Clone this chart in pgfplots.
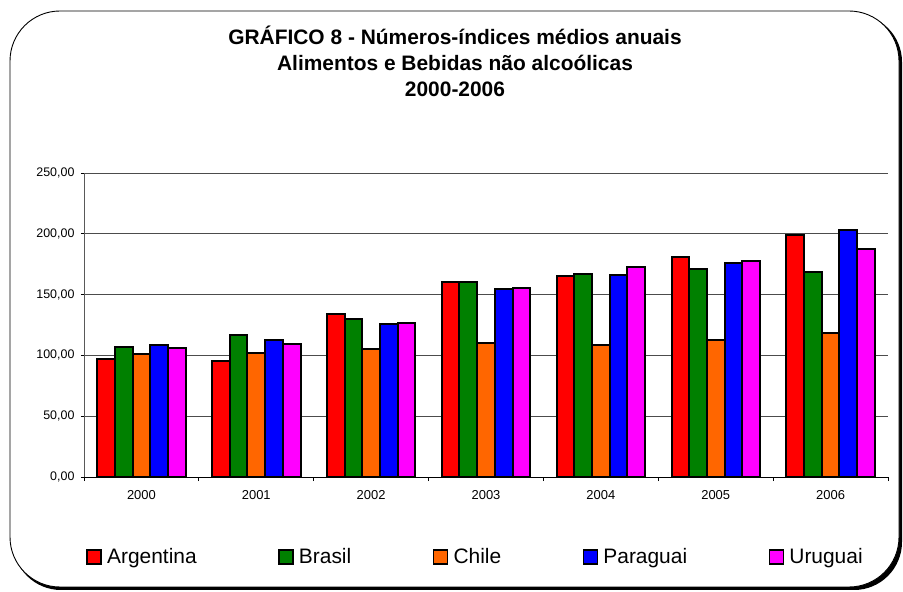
\documentclass[border=0pt]{standalone}
\usepackage{fontspec}
\setmainfont{Liberation Sans}
\usepackage{pgfplots}
\pgfplotsset{compat=1.18}
\definecolor{cArg}{HTML}{FF0000}
\definecolor{cBra}{HTML}{008000}
\definecolor{cChi}{HTML}{FF6600}
\definecolor{cPar}{HTML}{0000FF}
\definecolor{cUru}{HTML}{FF00FF}
\begin{document}
\begin{tikzpicture}
\useasboundingbox (0,0) rectangle (903bp,592bp);
\fill[black, rounded corners=48bp] (13bp,2bp) rectangle (902bp,578bp);
\filldraw[fill=white, draw=black, line width=0.9bp, rounded corners=50bp] (10bp,5bp) rectangle (899bp,581bp);
\node[anchor=base, font=\bfseries\fontsize{21}{24}\selectfont] at (455bp,547bp) {GRÁFICO 8 - Números-índices médios anuais};
\node[anchor=base, font=\bfseries\fontsize{21}{24}\selectfont] at (455bp,521bp) {Alimentos e Bebidas não alcoólicas};
\node[anchor=base, font=\bfseries\fontsize{21}{24}\selectfont] at (455bp,495bp) {2000-2006};
\begin{axis}[
  at={(84bp,115bp)}, anchor=south west,
  scale only axis, width=804bp, height=304bp,
  ybar=0pt, bar width=0.154,
  xmin=-0.5, xmax=6.5, ymin=0, ymax=250,
  axis x line*=bottom, axis y line*=left,
  x axis line style={black, line width=0.9bp},
  y axis line style={gray!70!black, line width=0.9bp},
  xtick={0,...,6},
  xticklabels={2000,2001,2002,2003,2004,2005,2006},
  minor xtick={-0.5,0.5,...,6.5},
  major x tick style={draw=none},
  minor tick length=4bp, major tick length=3bp,
  tick align=outside,
  ytick={0,50,...,250},
  tick style={black, line width=0.8bp},
  ymajorgrids, grid style={gray!60!black, line width=0.9bp},
  /pgf/number format/assume math mode=true,
  yticklabel style={xshift=-3bp, font=\fontsize{12.5}{14}\selectfont,
    /pgf/number format/.cd, fixed, fixed zerofill, precision=2, use comma, 1000 sep={}},
  xticklabel style={yshift=-7bp, font=\fontsize{13}{15}\selectfont},
  legend style={at={(0.487,-0.263)}, anchor=center, draw=none, fill=none,
    font=\fontsize{21}{24}\selectfont, inner sep=0pt,
    /tikz/every even column/.append style={column sep=79.5bp}},
  legend columns=5,
  legend image code/.code={\draw[#1,draw=black,line width=1.5bp] (0bp,-7bp) rectangle (14bp,7bp); \path (17bp,0bp);},
  every axis plot/.append style={draw=black, line width=2bp},
]
\addplot[fill=cArg] coordinates {(0,97.0) (1,95.1) (2,134.0) (3,160.4) (4,165.3) (5,181.2) (6,199.3)};
\addplot[fill=cBra] coordinates {(0,107.2) (1,117.0) (2,129.7) (3,160.1) (4,166.7) (5,170.8) (6,168.9)};
\addplot[fill=cChi] coordinates {(0,101.4) (1,102.0) (2,105.3) (3,109.9) (4,108.8) (5,112.7) (6,118.1)};
\addplot[fill=cPar] coordinates {(0,108.8) (1,112.9) (2,125.8) (3,154.3) (4,166.1) (5,175.7) (6,203.4)};
\addplot[fill=cUru] coordinates {(0,106.1) (1,109.6) (2,126.4) (3,155.2) (4,172.7) (5,177.9) (6,187.8)};
\legend{Argentina,Brasil,Chile,Paraguai,Uruguai}
\end{axis}
\end{tikzpicture}
\end{document}
